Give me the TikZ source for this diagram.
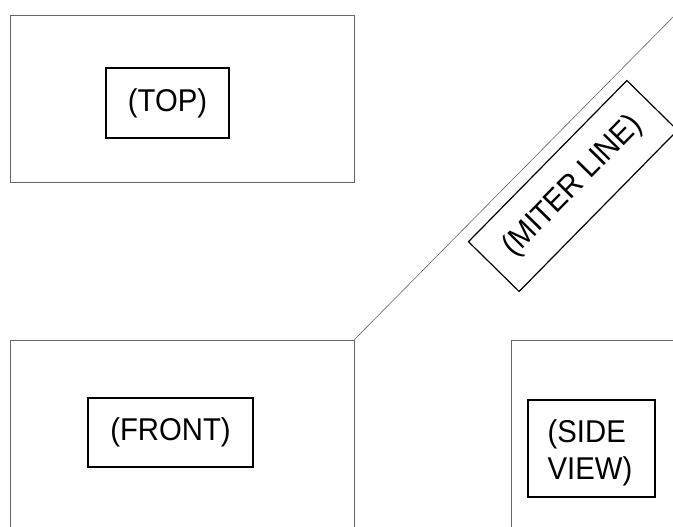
\documentclass[tikz,border=0pt]{standalone}
\usepackage{fontspec}
\setmainfont{Liberation Sans}[FakeStretch=0.93]
\usetikzlibrary{positioning, calc}

\tikzset{
  view/.style={draw=black!60, line width=0.8pt},
  tag/.style={draw, line width=1.2pt, inner sep=0pt, font=\fontsize{31.5}{37}\selectfont},
}

\begin{document}
\begin{tikzpicture}[x=1pt, y=-1pt]
      \useasboundingbox (0,0) rectangle (673,527);
      \clip (0,0) rectangle (673,527);

      % Views
      \node[view, minimum width=344pt, minimum height=167pt] (top) at (182,98.5) {};
      \node[view, minimum width=344pt, minimum height=240pt] (front) at (182,460) {};
      \node[view, minimum width=300pt, minimum height=240pt] (side) at (661,460) {};

      % Labels
      \node[tag, minimum width=123pt, minimum height=70pt] (toptag) at (167.5,103) {(TOP)};
      \node[tag, minimum width=165pt, minimum height=69pt] (fronttag) at (170.5,432.5) {(FRONT)};
      \node[tag, minimum width=127pt, minimum height=97pt] (sidetag) at (591.5,448.5) {};
      \node[tag, draw=none, align=left] (sidetext) at (590,452.5) {(SIDE\\VIEW)};

      % Miter line
      \coordinate (mitertop) at ($(front.north east)+(322,-326)$);
      \draw[view, line width=0.6pt] (front.north east) -- (mitertop);
      \node[tag, rotate=45.5, minimum width=226pt, minimum height=71pt] (mitertag) at (573,186)
        {(MITER LINE)};
\end{tikzpicture}
\end{document}
